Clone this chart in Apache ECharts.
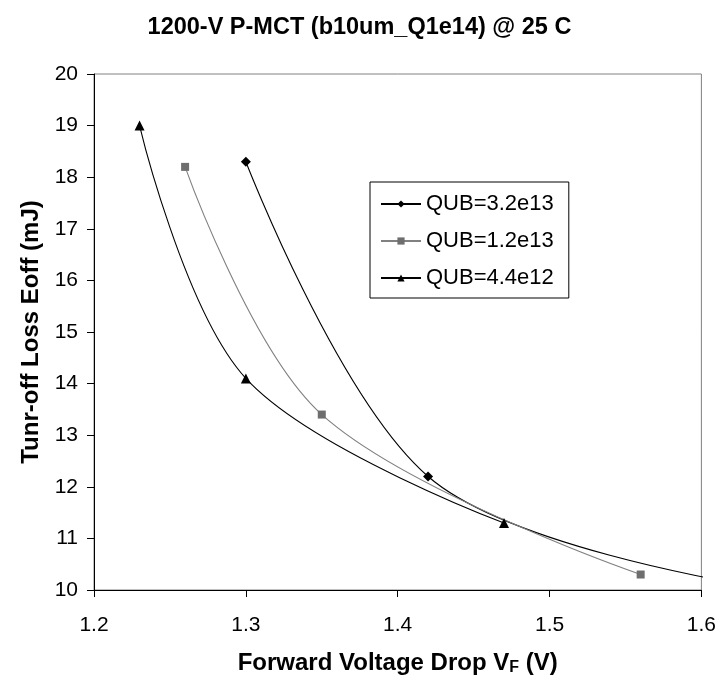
<html><head><meta charset="utf-8"></head><body style="margin:0;background:#fff"><div id="c" style="width:719px;height:681px"></div><script src="https://cdn.jsdelivr.net/npm/echarts@6/dist/echarts.min.js"></script><script>
// Data
var seriesNames = ['QUB=3.2e13', 'QUB=1.2e13', 'QUB=4.4e12'];
var vf_qub32e13 = [1.30, 1.42, 1.62];
var eoff_qub32e13 = [18.3, 12.2, 10.15];
var vf_qub12e13 = [1.26, 1.35, 1.56];
var eoff_qub12e13 = [18.2, 13.4, 10.3];
var vf_qub44e12 = [1.23, 1.30, 1.47];
var eoff_qub44e12 = [19.0, 14.1, 11.3];
var xTicks = [1.2, 1.3, 1.4, 1.5, 1.6];
var yTicks = [10, 11, 12, 13, 14, 15, 16, 17, 18, 19, 20];

function pairs(xs, ys) { return xs.map(function (x, i) { return [x, ys[i]]; }); }

var FONT = 'Liberation Sans, Arial, sans-serif';
var c = echarts.init(document.getElementById('c'));
c.setOption({
  animation: false,
  backgroundColor: '#fff',
  title: {
    text: '1200-V P-MCT (b10um_Q1e14) @ 25 C',
    left: 'center', top: 11,
    textStyle: { fontFamily: FONT, fontSize: 23.5, fontWeight: 'bold', color: '#000' }
  },
  grid: { left: 94, right: 17, top: 74, bottom: 89, show: true, borderColor: '#808080', borderWidth: 1, backgroundColor: 'transparent' },
  legend: {
    orient: 'vertical', left: 370, top: 182,
    padding: [11, 15, 9, 10], itemGap: 15,
    itemWidth: 40, itemHeight: 9,
    borderColor: '#000', borderWidth: 1,
    textStyle: { fontFamily: FONT, fontSize: 22, color: '#000' },
    data: seriesNames
  },
  xAxis: {
    type: 'value', min: xTicks[0], max: xTicks[xTicks.length - 1], interval: 0.1,
    name: 'Forward Voltage Drop V{sub|F} (V)', nameLocation: 'middle', nameGap: 60,
    nameTextStyle: { fontFamily: FONT, fontSize: 24, fontWeight: 'bold', color: '#000',
      rich: { sub: { fontFamily: FONT, fontSize: 16, fontWeight: 'bold', verticalAlign: 'bottom', padding: [10, 0, 0, 0] } } },
    axisLine: { lineStyle: { color: '#000', width: 1 } },
    axisTick: { show: true, inside: false, length: 7, lineStyle: { color: '#000' } },
    axisLabel: { margin: 25, fontFamily: FONT, fontSize: 21, color: '#000',
      formatter: function (v) { return v.toFixed(1); } },
    splitLine: { show: false }
  },
  yAxis: {
    type: 'value', min: yTicks[0], max: yTicks[yTicks.length - 1], interval: 1,
    name: 'Tunr-off Loss Eoff (mJ)', nameLocation: 'middle', nameGap: 42,
    nameTextStyle: { fontFamily: FONT, fontSize: 24, fontWeight: 'bold', color: '#000' },
    axisLine: { show: true, lineStyle: { color: '#000', width: 1 } },
    axisTick: { show: true, inside: false, length: 7, lineStyle: { color: '#000' } },
    axisLabel: { margin: 16, fontFamily: FONT, fontSize: 21, color: '#000' },
    splitLine: { show: false }
  },
  series: [
    { name: seriesNames[0], type: 'line', smooth: 0.35, data: pairs(vf_qub32e13, eoff_qub32e13),
      symbol: 'diamond', symbolSize: 10, showAllSymbol: true,
      lineStyle: { color: '#000', width: 1.1 }, itemStyle: { color: '#000' } },
    { name: seriesNames[1], type: 'line', smooth: 0.35, data: pairs(vf_qub12e13, eoff_qub12e13),
      symbol: 'rect', symbolSize: 8,
      lineStyle: { color: '#808080', width: 1.1 }, itemStyle: { color: '#6e6e6e' } },
    { name: seriesNames[2], type: 'line', smooth: 0.35, data: pairs(vf_qub44e12, eoff_qub44e12),
      symbol: 'triangle', symbolSize: 10,
      lineStyle: { color: '#000', width: 1.1 }, itemStyle: { color: '#000' } }
  ]
});
</script></body></html>
